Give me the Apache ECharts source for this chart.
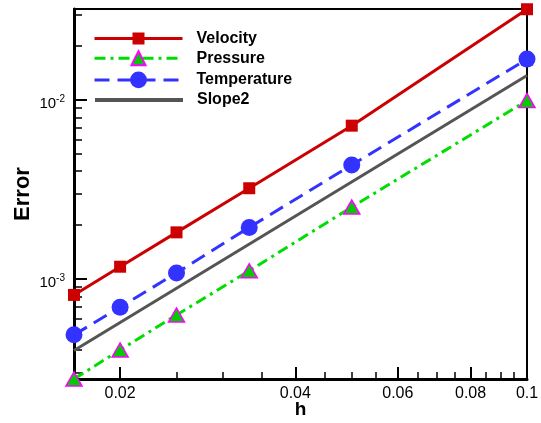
<!DOCTYPE html>
<html><head><meta charset="utf-8">
<script src="https://cdn.jsdelivr.net/npm/echarts@6/dist/echarts.min.js"></script>
<style>html,body{margin:0;padding:0;background:#fff}#c{width:541px;height:423px}</style>
</head><body><div id="c"></div>
<script>
var h = [1/60, 1/50, 1/40, 1/30, 1/20, 1/10];
var velocity = [8.14e-4, 1.17e-3, 1.82e-3, 3.21e-3, 7.18e-3, 3.21e-2];
var pressure = [2.76e-4, 4.01e-4, 6.29e-4, 1.11e-3, 2.52e-3, 9.91e-3];
var temperature = [4.87e-4, 6.95e-4, 1.08e-3, 1.94e-3, 4.33e-3, 1.69e-2];
var slopeH = [1/60, 1/10];
var slope2 = [3.98e-4, 1.37e-2];
var seriesNames = ['Velocity', 'Pressure', 'Temperature', 'Slope2'];
var xMajor = [0.02, 0.04, 0.06, 0.08, 0.1];
var xMinor = [0.025, 0.03, 0.035, 0.045, 0.05, 0.055, 0.065, 0.07, 0.075, 0.085, 0.09, 0.095];
var yMajor = [1e-3, 1e-2];
var yMinor = [3e-4, 4e-4, 5e-4, 6e-4, 7e-4, 8e-4, 9e-4, 2e-3, 3e-3, 4e-3, 5e-3, 6e-3, 7e-3, 8e-3, 9e-3, 2e-2, 3e-2];
var xMin = 1/60, xMax = 0.1, yMin = 2.76e-4, yMax = 3.22e-2;

function pairs(xs, ys){ return xs.map(function(x,i){return [x, ys[i]];}); }
var FONT = 'Liberation Sans';
// one legend per entry so each marker can keep its own size
var legendRows = [{c: 38, ih: 15, lw: 3}, {c: 59, ih: 17.5, lw: 3}, {c: 82, ih: 21, lw: 3}, {c: 99, ih: 14, lw: 4}];
var legends = seriesNames.map(function(n, i){
  var r = legendRows[i];
  return {
    orient: 'vertical', left: 93, top: r.c - r.ih/2, padding: 0,
    itemWidth: 88, itemHeight: r.ih,
    lineStyle: {width: r.lw},
    textStyle: {fontFamily: FONT, fontWeight: 'bold', fontSize: 16, color: '#000', padding: [0,0,0,9]},
    data: n === 'Slope2' ? [{name: n, itemStyle: {opacity: 0}}] : [n]
  };
});
var chart = echarts.init(document.getElementById('c'));
chart.setOption({
  animation: false,
  grid: {left: 74, right: 14, top: 9, bottom: 44, show: true, borderColor: '#000', borderWidth: 2,
         backgroundColor: 'transparent', containLabel: false, outerBoundsMode: 'none'},
  legend: legends,
  xAxis: [{
    type: 'log', logBase: 10, min: xMin, max: xMax,
    name: 'h', nameLocation: 'middle', nameGap: 21, nameMoveOverlap: false,
    nameTextStyle: {fontFamily: FONT, fontWeight: 'bold', fontSize: 19, color: '#000'},
    axisLine: {show: true, lineStyle: {color: '#000', width: 3}},
    axisTick: {show: true, inside: true, length: 12, lineStyle: {color: '#000', width: 2}, customValues: xMajor},
    axisLabel: {show: true, customValues: xMajor, margin: 7, fontFamily: FONT, fontSize: 16, color: '#000',
      formatter: function(v){ return String(Math.round(v*1000)/1000); }},
    splitLine: {show: false}, minorTick: {show: false}
  }, {
    type: 'log', logBase: 10, min: xMin, max: xMax, position: 'bottom', offset: 0,
    axisLine: {show: false},
    axisTick: {show: true, inside: true, length: 7, lineStyle: {color: '#000', width: 1.5}, customValues: xMinor},
    axisLabel: {show: false}, splitLine: {show: false}
  }],
  yAxis: [{
    type: 'log', logBase: 10, min: yMin, max: yMax,
    name: 'Error', nameLocation: 'middle', nameGap: 40, nameRotate: 90, nameMoveOverlap: false,
    nameTextStyle: {fontFamily: FONT, fontWeight: 'bold', fontSize: 22, color: '#000'},
    axisLine: {show: true, lineStyle: {color: '#000', width: 3}},
    axisTick: {show: true, inside: true, length: 13, lineStyle: {color: '#000', width: 2}, customValues: yMajor},
    axisLabel: {show: true, customValues: yMajor, margin: 9, padding: [6, 0, 0, 0], fontFamily: FONT, fontSize: 15, color: '#000',
      formatter: function(v){ var e = Math.round(Math.log10(v)); return '{b|10}{s|' + e + '}'; },
      rich: {b: {fontFamily: FONT, fontSize: 15, color: '#000', verticalAlign: 'bottom'},
             s: {fontFamily: FONT, fontSize: 10, color: '#000', verticalAlign: 'top', padding: [0,0,7,0]}}},
    splitLine: {show: false}
  }, {
    type: 'log', logBase: 10, min: yMin, max: yMax, position: 'left', offset: 0,
    axisLine: {show: false},
    axisTick: {show: true, inside: true, length: 8, lineStyle: {color: '#000', width: 1.5}, customValues: yMinor},
    axisLabel: {show: false}, splitLine: {show: false}
  }],
  series: [{
    name: 'Velocity', type: 'line', data: pairs(h, velocity), clip: false, z: 5,
    symbol: 'rect', symbolSize: 12,
    lineStyle: {color: '#cc0000', width: 3},
    itemStyle: {color: '#cc0000'}
  }, {
    name: 'Pressure', type: 'line', data: pairs(h, pressure), clip: false, z: 4,
    symbol: 'triangle', symbolSize: [16, 14],
    lineStyle: {color: '#00dd00', width: 3, type: [11, 5, 3, 5]},
    itemStyle: {color: '#00cc00', borderColor: '#ff00ff', borderWidth: 1.5}
  }, {
    name: 'Temperature', type: 'line', data: pairs(h, temperature), clip: false, z: 4,
    symbol: 'circle', symbolSize: 17,
    lineStyle: {color: '#3333ff', width: 3, type: [15, 8]},
    itemStyle: {color: '#3333ff'}
  }, {
    name: 'Slope2', type: 'line', data: pairs(slopeH, slope2), clip: false, z: 3,
    symbol: 'none',
    lineStyle: {color: '#555555', width: 3},
    itemStyle: {color: '#555555'}
  }]
});
</script></body></html>
